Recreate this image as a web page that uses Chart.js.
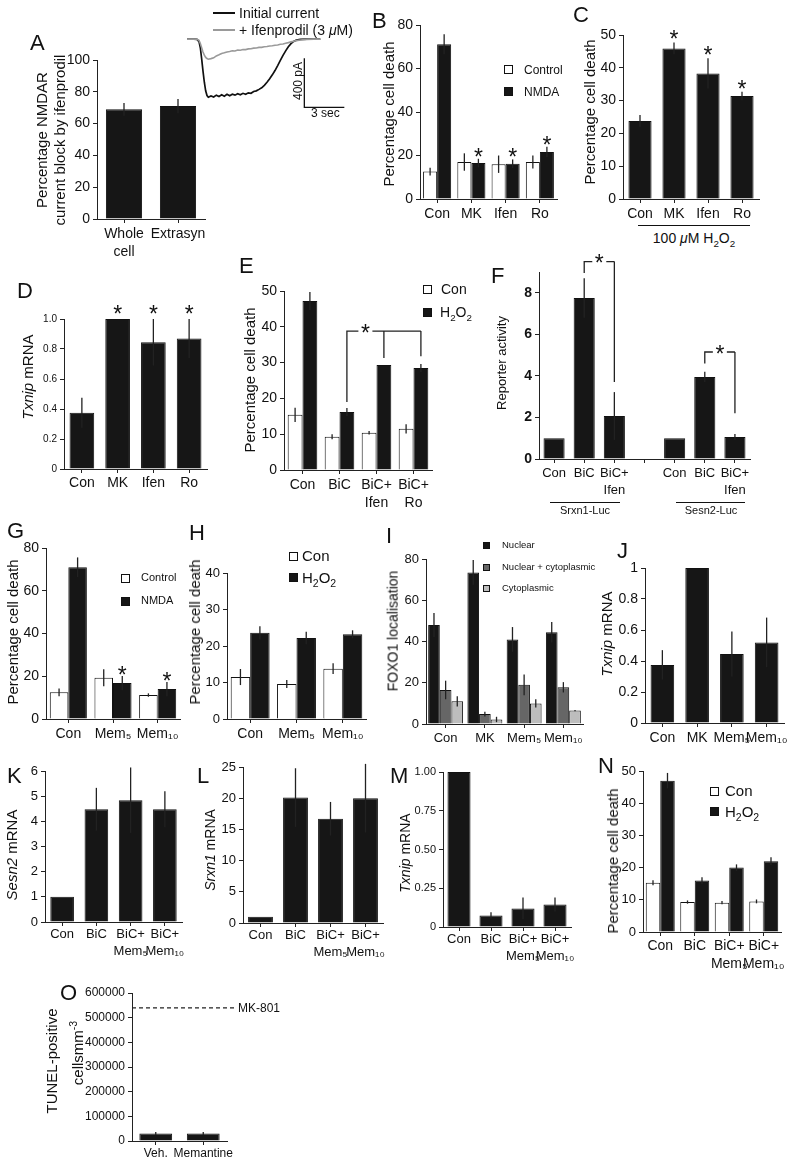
<!DOCTYPE html>
<html>
<head>
<meta charset="utf-8">
<script src="https://cdn.jsdelivr.net/npm/chart.js@4.4.1/dist/chart.umd.min.js"></script>
<style>
body { margin: 0; background: #fff; }
#page { position: relative; width: 797px; height: 1163px; overflow: hidden; background: #fff;
  font-family: 'Liberation Sans', Arial, Helvetica, sans-serif; color: #111; }
#page canvas { position: absolute; }
.t { position: absolute; white-space: nowrap; line-height: 1.2; }
.v { position: absolute; white-space: nowrap; line-height: 1.2; text-align: center;
  transform: translate(-50%, -50%) rotate(-90deg); }
.sq { position: absolute; border: 1px solid #111; box-sizing: border-box; }
.ln { position: absolute; background: #111; }
.letter { position: absolute; font-size: 22px; line-height: 1; }
sub, sup { font-size: 70%; line-height: 0; }
</style>
</head>
<body>
<div id="page"></div>
<script>
// ---------------- data ----------------
// A: block of NMDAR current by ifenprodil
const aCats = [['Whole', 'cell'], 'Extrasyn'];
const aBlock = [69, 71];
const aBlockErr = [4, 4.5];
// A inset: current traces (time in s, current in pA)
const traceTime = [0, 0.5, 0.75, 0.9, 1.0, 1.1, 1.2, 1.3, 1.4, 1.5, 1.6, 1.8, 2.0, 2.2, 2.4, 2.6, 2.8, 3.0,
  3.2, 3.4, 3.6, 3.8, 4.0, 4.2, 4.4, 4.6, 4.8, 5.0, 5.2, 5.4, 5.6, 5.8, 6.0, 6.2, 6.4, 6.6, 6.8, 7.0,
  7.2, 7.4, 7.6, 7.8, 8.0, 8.2, 8.5, 9.0, 9.5, 10.0];
const traceInitial = [0, 0, -2, -20, -70, -160, -260, -350, -420, -458, -472, -462, -470, -455, -466, -452, -463, -448,
  -460, -447, -455, -444, -452, -440, -448, -436, -440, -425, -420, -408, -395, -375, -350, -322, -290, -255, -215, -172,
  -132, -95, -62, -36, -18, -8, -2, 0, 0, 0];
const traceIfen = [0, 0, -1, -10, -35, -70, -105, -130, -148, -158, -163, -158, -152, -136, -127, -116, -111, -104,
  -101, -95, -96, -89, -90, -84, -85, -79, -78, -73, -72, -67, -67, -62, -60, -55, -54, -49, -47, -42,
  -39, -33, -28, -22, -17, -12, -7, -2, 0, 0];
const scaleBarTime = [8.8, 11.8];      // 3 sec
const scaleBarCurrent = [-155, -555];  // 400 pA

// B
const bCats = ['Con', 'MK', 'Ifen', 'Ro'];
const bControl = [12.6, 17, 16, 17];
const bControlErr = [1.8, 4, 4, 3];
const bNmda = [71.2, 16.5, 16.2, 21.6];
const bNmdaErr = [4.6, 2, 2, 2.4];
const bStar = [0, 1, 1, 1];

// C
const cCats = ['Con', 'MK', 'Ifen', 'Ro'];
const cDeath = [23.8, 45.9, 38.3, 31.4];
const cDeathErr = [1.8, 1.8, 4.6, 1.3];
const cStar = [0, 1, 1, 1];

// D
const dCats = ['Con', 'MK', 'Ifen', 'Ro'];
const dTxnip = [0.375, 1.0, 0.845, 0.87];
const dTxnipErr = [0.1, 0, 0.155, 0.13];
const dStar = [0, 1, 1, 1];

// E
const eCats = ['Con', 'BiC', ['BiC+', 'Ifen'], ['BiC+', 'Ro']];
const eCon = [15.4, 9.3, 10.4, 11.5];
const eConErr = [2, 0.7, 0.5, 1.3];
const eH2o2 = [47.2, 16.2, 29.3, 28.5];
const eH2o2Err = [2.5, 1.1, 0, 1.1];
const eBracketCats = [1, 2, 3];
const eBracketEnds = [19, 31.3, 31.8];
const eBracketLevel = 38.8;

// F
const fCats = ['Con', 'BiC', ['BiC+', 'Ifen'], '', 'Con', 'BiC', ['BiC+', 'Ifen']];
const fReporter = [1, 7.75, 2.07, null, 1, 3.95, 1.06];
const fReporterErr = [0, 0.95, 1.15, 0, 0, 0.25, 0.14];
const fBracket1Cats = [1, 2];
const fBracket1Ends = [8.95, 3.7];
const fBracket1Level = 9.5;
const fBracket2Cats = [5, 6];
const fBracket2Ends = [4.6, 2.2];
const fBracket2Level = 5.15;

// G
const gCats = ['Con', 'Mem₅', 'Mem₁₀'];
const gControl = [12.5, 19.3, 11.2];
const gControlErr = [1.8, 4, 0.8];
const gNmda = [71, 16.8, 14];
const gNmdaErr = [4.6, 3.3, 3.3];
const gStar = [0, 1, 1];

// H
const hCats = ['Con', 'Mem₅', 'Mem₁₀'];
const hCon = [11.5, 9.6, 13.8];
const hConErr = [2.2, 1.1, 1.5];
const hH2o2 = [23.6, 22.2, 23.2];
const hH2o2Err = [1.8, 1.7, 1.1];

// I
const iCats = ['Con', 'MK', 'Mem₅', 'Mem₁₀'];
const iNuclear = [48, 73.5, 41, 44.5];
const iNuclearErr = [5.8, 6, 6, 5];
const iBoth = [16.5, 4.8, 19, 17.8];
const iBothErr = [4.5, 1.2, 5, 2.5];
const iCyto = [11, 2.2, 10, 6.5];
const iCytoErr = [2.5, 1.3, 2, 0.3];

// J
const jCats = ['Con', 'MK', 'Mem₅', 'Mem₁₀'];
const jTxnip = [0.375, 1.0, 0.445, 0.52];
const jTxnipErr = [0.095, 0, 0.145, 0.16];

// K, L, M
const memCats = ['Con', 'BiC', ['BiC+', 'Mem₅'], ['BiC+', 'Mem₁₀']];
const kSesn2 = [1, 4.48, 4.84, 4.48];
const kSesn2Err = [0, 0.85, 1.3, 0.72];
const lSrxn1 = [1, 20.1, 16.7, 20];
const lSrxn1Err = [0, 4.7, 2.7, 5.5];
const mTxnip = [1.0, 0.075, 0.12, 0.145];
const mTxnipErr = [0, 0.02, 0.07, 0.045];

// N
const nCon = [15.3, 9.3, 9.1, 9.5];
const nConErr = [0.8, 0.5, 0.5, 0.6];
const nH2o2 = [47, 16, 20, 22];
const nH2o2Err = [2.4, 1, 1, 1.2];

// O
const oCats = ['Veh.', 'Memantine'];
const oTunel = [30000, 30000];
const oTunelErr = [6000, 6000];
const oMk801 = 540000;

// ---------------- helpers ----------------
const page = document.getElementById('page');
const FONT = "'Liberation Sans', Arial, Helvetica, sans-serif";
Chart.defaults.font.family = FONT;
Chart.defaults.color = '#111';
const BLACK = '#161616', WHITE = '#ffffff', AXIS = '#222';
const STAR = 23;

function el(cls, css, html) {
  const d = document.createElement('div');
  d.className = cls;
  d.style.cssText = css;
  if (html) d.innerHTML = html;
  page.appendChild(d);
  return d;
}
function txt(x, cy, html, size) {
  return el('t', `left:${x}px;top:${cy - size * 0.6}px;font-size:${size}px`, html);
}
function ctxt(cx, cy, html, size) {
  const d = txt(cx, cy, html, size);
  d.style.transform = 'translateX(-50%)';
}
function vtxt(cx, cy, html, size) {
  el('v', `left:${cx}px;top:${cy}px;font-size:${size}px`, html);
}
function letter(x, top, s) { el('letter', `left:${x}px;top:${top}px`, s); }
function square(x, y, s, color) {
  el('sq', `left:${x}px;top:${y}px;width:${s}px;height:${s}px;background:${color}`);
}
function hline(x1, x2, y, color, th) {
  el('ln', `left:${x1}px;top:${y}px;width:${x2 - x1}px;height:${th || 1.2}px;background:${color || '#111'}`);
}

// error bars, asterisks, brackets and reference line
const marks = {
  id: 'marks',
  afterDatasetsDraw(chart, args, opts) {
    const ctx = chart.ctx, ys = chart.scales.y;
    const py = v => ys.getPixelForValue(v);
    ctx.save();
    ctx.strokeStyle = AXIS;
    ctx.fillStyle = '#111';
    ctx.lineWidth = 1.3;
    const star = (x, cy) => {
      ctx.font = `${STAR}px ${FONT}`;
      ctx.textAlign = 'center';
      ctx.textBaseline = 'alphabetic';
      ctx.fillText('*', x, cy + STAR * 0.56);
    };
    chart.data.datasets.forEach((ds, di) => {
      chart.getDatasetMeta(di).data.forEach((bar, i) => {
        const v = ds.data[i];
        if (v == null) return;
        const e = ds.err ? ds.err[i] : 0;
        if (e) {
          ctx.beginPath();
          ctx.moveTo(bar.x, py(v - e));
          ctx.lineTo(bar.x, py(v + e));
          ctx.stroke();
        }
        if (ds.star && ds.star[i]) star(bar.x, py(v + e) - (opts.starGap || 7));
      });
    });
    (opts.brackets || []).forEach(b => {
      const meta = chart.getDatasetMeta(b.ds);
      const xs = b.cats.map(c => meta.data[c].x);
      const yl = py(b.level);
      const mid = (xs[0] + xs[1]) / 2;
      ctx.beginPath();
      ctx.moveTo(xs[0], py(b.ends[0]));
      ctx.lineTo(xs[0], yl);
      ctx.lineTo(mid - 7, yl);
      ctx.moveTo(mid + 7, yl);
      ctx.lineTo(xs[xs.length - 1], yl);
      xs.slice(1).forEach((x, k) => { ctx.moveTo(x, yl); ctx.lineTo(x, py(b.ends[k + 1])); });
      ctx.stroke();
      star(mid, yl - 3);
    });
    if (opts.refLine != null) {
      const a = chart.chartArea, y = py(opts.refLine);
      ctx.setLineDash([4, 3]);
      ctx.beginPath();
      ctx.moveTo(a.left, y);
      ctx.lineTo(a.right + 8, y);
      ctx.stroke();
      ctx.setLineDash([]);
    }
    ctx.restore();
  }
};

function makeBar(c) {
  const yw = c.yw || 40, pt = c.pt || 20, pr = c.pr || 20, xh = c.xh || 26;
  const left = c.ax - yw, top = c.yTop - pt;
  const w = Math.round(c.right - left + pr), h = Math.round(c.y0 - c.yTop + pt + xh);
  const cv = document.createElement('canvas');
  cv.width = w;
  cv.height = h;
  cv.style.left = left + 'px';
  cv.style.top = top + 'px';
  page.appendChild(cv);
  const datasets = c.sets.map(s => ({
    data: s.data, err: s.err, star: s.star,
    backgroundColor: s.color, borderColor: '#111', borderWidth: 1,
    categoryPercentage: c.cat, barPercentage: 1
  }));
  const gridOpts = { display: true, drawOnChartArea: false, drawTicks: true, tickLength: 4, color: AXIS, lineWidth: 1, offset: false };
  return new Chart(cv, {
    type: 'bar',
    data: { labels: c.labels, datasets },
    options: {
      responsive: false,
      animation: false,
      layout: { padding: { top: pt, right: pr, left: 0, bottom: 0 } },
      plugins: {
        legend: { display: false },
        tooltip: { enabled: false },
        marks: { starGap: c.starGap, brackets: c.brackets, refLine: c.refLine }
      },
      scales: {
        x: {
          offset: true,
          grid: gridOpts,
          border: { display: true, color: AXIS, width: 1 },
          ticks: { font: { size: c.xFont || 14, lineHeight: 1.3 }, padding: c.xPad != null ? c.xPad : 2, maxRotation: 0, autoSkip: false },
          afterFit: s => { s.height = xh; }
        },
        y: {
          min: 0,
          max: c.max,
          grid: gridOpts,
          border: { display: true, color: AXIS, width: 1 },
          ticks: {
            stepSize: c.step,
            includeBounds: c.bounds !== false,
            font: { size: c.yFont || 14, weight: c.yWeight || 'normal' },
            padding: 3,
            callback: c.fmt || (v => String(Math.round(v * 1000) / 1000))
          },
          afterFit: s => { s.width = yw; }
        }
      }
    },
    plugins: [marks]
  });
}

// ---------------- A ----------------
makeBar({ ax: 97, yTop: 60, y0: 219, right: 205, max: 100, step: 20, labels: aCats, cat: 0.67, xh: 44,
  sets: [{ data: aBlock, err: aBlockErr, color: BLACK }] });
vtxt(51, 140, 'Percentage NMDAR<br>current block by ifenprodil', 15);
letter(30, 32, 'A');

// inset traces
(function () {
  const cv = document.createElement('canvas');
  cv.width = 160;
  cv.height = 80;
  cv.style.left = '187px';
  cv.style.top = '33px';
  page.appendChild(cv);
  const scaleBar = {
    id: 'scalebar',
    afterDatasetsDraw(chart) {
      const { x, y } = chart.scales, ctx = chart.ctx;
      ctx.save();
      ctx.strokeStyle = '#111';
      ctx.lineWidth = 1.3;
      ctx.beginPath();
      ctx.moveTo(x.getPixelForValue(scaleBarTime[0]), y.getPixelForValue(scaleBarCurrent[0]));
      ctx.lineTo(x.getPixelForValue(scaleBarTime[0]), y.getPixelForValue(scaleBarCurrent[1]));
      ctx.lineTo(x.getPixelForValue(scaleBarTime[1]), y.getPixelForValue(scaleBarCurrent[1]));
      ctx.stroke();
      ctx.restore();
    }
  };
  new Chart(cv, {
    type: 'line',
    data: {
      datasets: [
        { data: traceTime.map((t, i) => ({ x: t, y: traceIfen[i] })), borderColor: '#9a9a9a', borderWidth: 1.6, pointRadius: 0, tension: 0 },
        { data: traceTime.map((t, i) => ({ x: t, y: traceInitial[i] })), borderColor: '#111', borderWidth: 1.7, pointRadius: 0, tension: 0 }
      ]
    },
    options: {
      responsive: false,
      animation: false,
      layout: { padding: 0 },
      plugins: { legend: { display: false }, tooltip: { enabled: false } },
      scales: {
        x: { type: 'linear', min: 0, max: 12, display: false },
        y: { min: -600, max: 50, display: false }
      }
    },
    plugins: [scaleBar]
  });
})();
hline(213, 235, 12, '#111', 1.5);
txt(239, 13, 'Initial current', 14);
hline(213, 235, 29, '#9a9a9a', 1.5);
txt(239, 30, '+ Ifenprodil (3 <i>μ</i>M)', 14);
vtxt(298, 81, '400 pA', 12);
txt(311, 113, '3 sec', 12);

// ---------------- B ----------------
makeBar({ ax: 420, yTop: 25, y0: 199, right: 557, max: 80, step: 20, labels: bCats, cat: 0.82,
  sets: [
    { data: bControl, err: bControlErr, color: WHITE },
    { data: bNmda, err: bNmdaErr, star: bStar, color: BLACK }
  ] });
vtxt(389, 114, 'Percentage cell death', 15);
square(504, 65, 9, WHITE); txt(524, 70, 'Control', 12);
square(504, 87, 9, BLACK); txt(524, 92, 'NMDA', 12);
letter(372, 10, 'B');

// ---------------- C ----------------
makeBar({ ax: 623, yTop: 35, y0: 199, right: 759, max: 50, step: 10, labels: cCats, cat: 0.68, starGap: 8,
  sets: [{ data: cDeath, err: cDeathErr, star: cStar, color: BLACK }] });
vtxt(590, 112, 'Percentage cell death', 15);
hline(638, 750, 225, '#111', 1.2);
ctxt(694, 238, '100 <i>μ</i>M H<sub>2</sub>O<sub>2</sub>', 14);
letter(573, 4, 'C');

// ---------------- D ----------------
makeBar({ ax: 64, yTop: 319, y0: 469, right: 207, max: 1, step: 0.2, labels: dCats, cat: 0.69, yFont: 10, xPad: 1, starGap: 10,
  fmt: v => (v === 0 ? '0' : v.toFixed(1)),
  sets: [{ data: dTxnip, err: dTxnipErr, star: dStar, color: BLACK }] });
vtxt(28, 377, '<i>Txnip</i> mRNA', 15);
letter(17, 280, 'D');

// ---------------- E ----------------
makeBar({ ax: 284, yTop: 291, y0: 470, right: 432, max: 50, step: 10, labels: eCats, cat: 0.8, xh: 44,
  brackets: [{ ds: 1, cats: eBracketCats, ends: eBracketEnds, level: eBracketLevel }],
  sets: [
    { data: eCon, err: eConErr, color: WHITE },
    { data: eH2o2, err: eH2o2Err, color: BLACK }
  ] });
vtxt(250, 380, 'Percentage cell death', 15);
square(423, 285, 9, WHITE); txt(441, 289, 'Con', 14);
square(423, 308, 9, BLACK); txt(440, 312, 'H<sub>2</sub>O<sub>2</sub>', 14);
letter(239, 255, 'E');

// ---------------- F ----------------
makeBar({ ax: 539, yTop: 272, y0: 459, right: 750, max: 9, step: 2, bounds: false, labels: fCats, cat: 0.7, xh: 44, pt: 28,
  xFont: 13, yFont: 14, yWeight: 'bold',
  brackets: [
    { ds: 0, cats: fBracket1Cats, ends: fBracket1Ends, level: fBracket1Level },
    { ds: 0, cats: fBracket2Cats, ends: fBracket2Ends, level: fBracket2Level }
  ],
  sets: [{ data: fReporter, err: fReporterErr, color: BLACK }] });
vtxt(502, 363, 'Reporter activity', 13);
hline(550, 620, 502, '#111', 1);
ctxt(585, 511, 'Srxn1-Luc', 11);
hline(676, 745, 502, '#111', 1);
ctxt(711, 511, 'Sesn2-Luc', 11);
letter(491, 265, 'F');

// ---------------- G ----------------
makeBar({ ax: 46, yTop: 548, y0: 719, right: 180, max: 80, step: 20, labels: gCats, cat: 0.83, starGap: 6,
  sets: [
    { data: gControl, err: gControlErr, color: WHITE },
    { data: gNmda, err: gNmdaErr, star: gStar, color: BLACK }
  ] });
vtxt(13, 632, 'Percentage cell death', 15);
square(121, 574, 9, WHITE); txt(141, 578, 'Control', 11);
square(121, 597, 9, BLACK); txt(141, 601, 'NMDA', 11);
letter(7, 520, 'G');

// ---------------- H ----------------
makeBar({ ax: 227, yTop: 573, y0: 719, right: 366, max: 40, step: 10, labels: hCats, cat: 0.84, yFont: 13,
  sets: [
    { data: hCon, err: hConErr, color: WHITE },
    { data: hH2o2, err: hH2o2Err, color: BLACK }
  ] });
vtxt(195, 632, 'Percentage cell death', 15);
square(289, 552, 9, WHITE); txt(302, 556, 'Con', 15);
square(289, 573, 9, BLACK); txt(302, 578, 'H<sub>2</sub>O<sub>2</sub>', 15);
letter(189, 522, 'H');

// ---------------- I ----------------
makeBar({ ax: 426, yTop: 559, y0: 724, right: 583, max: 80, step: 20, labels: iCats, cat: 0.89, yFont: 13, xFont: 13,
  sets: [
    { data: iNuclear, err: iNuclearErr, color: BLACK },
    { data: iBoth, err: iBothErr, color: '#666666' },
    { data: iCyto, err: iCytoErr, color: '#bdbdbd' }
  ] });
vtxt(393, 631, 'FOXO1 localisation', 14);
square(483, 542, 7, BLACK); txt(502, 545, 'Nuclear', 9.5);
square(483, 564, 7, '#666666'); txt(502, 567, 'Nuclear + cytoplasmic', 9.5);
square(483, 585, 7, '#bdbdbd'); txt(502, 588, 'Cytoplasmic', 9.5);
letter(386, 525, 'I');

// ---------------- J ----------------
makeBar({ ax: 645, yTop: 568, y0: 723, right: 784, max: 1, step: 0.2, labels: jCats, cat: 0.68,
  fmt: v => (v === 0 || v === 1 ? String(v) : v.toFixed(1)),
  sets: [{ data: jTxnip, err: jTxnipErr, color: BLACK }] });
vtxt(607, 634, '<i>Txnip</i> mRNA', 15);
letter(617, 540, 'J');

// ---------------- K ----------------
makeBar({ ax: 45, yTop: 771, y0: 922, right: 182, max: 6, step: 1, labels: memCats, cat: 0.69, xh: 44, xFont: 13, yFont: 13, xPad: 0,
  sets: [{ data: kSesn2, err: kSesn2Err, color: BLACK }] });
vtxt(12, 855, '<i>Sesn2</i> mRNA', 15);
letter(7, 765, 'K');

// ---------------- L ----------------
makeBar({ ax: 243, yTop: 767, y0: 923, right: 383, max: 25, step: 5, labels: memCats, cat: 0.71, xh: 44, xFont: 13, yFont: 13, xPad: 0,
  sets: [{ data: lSrxn1, err: lSrxn1Err, color: BLACK }] });
vtxt(210, 850, '<i>Srxn1</i> mRNA', 14);
letter(197, 765, 'L');

// ---------------- M ----------------
makeBar({ ax: 443, yTop: 772, y0: 927, right: 571, max: 1, step: 0.25, labels: memCats, cat: 0.72, xh: 44, xFont: 13, yFont: 11, xPad: 0,
  fmt: v => (v === 0 ? '0' : v.toFixed(2)),
  sets: [{ data: mTxnip, err: mTxnipErr, color: BLACK }] });
vtxt(405, 853, '<i>Txnip</i> mRNA', 14);
letter(390, 765, 'M');

// ---------------- N ----------------
makeBar({ ax: 643, yTop: 771, y0: 932, right: 781, max: 50, step: 10, labels: memCats, cat: 0.84, xh: 44, yFont: 13, xPad: 1,
  sets: [
    { data: nCon, err: nConErr, color: WHITE },
    { data: nH2o2, err: nH2o2Err, color: BLACK }
  ] });
vtxt(613, 861, 'Percentage cell death', 15);
square(710, 787, 9, WHITE); txt(725, 791, 'Con', 15);
square(710, 807, 9, BLACK); txt(725, 812, 'H<sub>2</sub>O<sub>2</sub>', 15);
letter(598, 755, 'N');

// ---------------- O ----------------
makeBar({ ax: 132, yTop: 993, y0: 1141, right: 227, max: 600000, step: 100000, labels: oCats, cat: 0.69, yw: 58,
  xFont: 12, yFont: 12, xPad: 1, refLine: oMk801,
  fmt: v => String(v),
  sets: [{ data: oTunel, err: oTunelErr, color: BLACK }] });
txt(238, 1008, 'MK-801', 12);
vtxt(52, 1061, 'TUNEL-positive', 15);
vtxt(78, 1053, 'cellsmm<sup>-3</sup>', 15);
letter(60, 982, 'O');
</script>
</body>
</html>
